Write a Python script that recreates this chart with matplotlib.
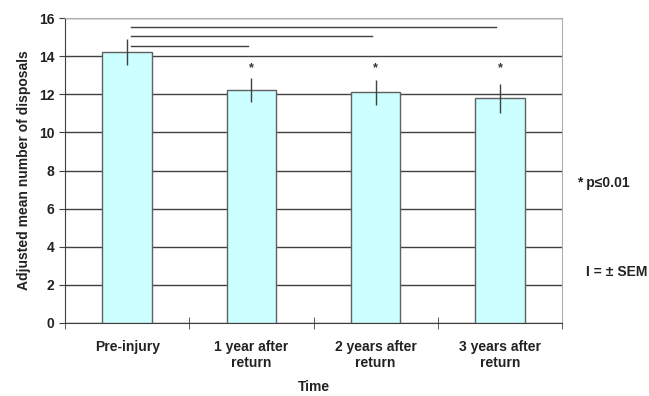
import numpy as np
import matplotlib.pyplot as plt

plt.rcParams['font.family'] = ['Liberation Sans', 'DejaVu Sans']
plt.rcParams['font.weight'] = 'bold'

# adjusted mean disposals per period, with SEM
periods = ['Pre-injury', '1 year after\nreturn', '2 years after\nreturn', '3 years after\nreturn']
means = [14.23, 12.22, 12.10, 11.79]
sem = [0.69, 0.63, 0.64, 0.77]
significant = [False, True, True, True]
# comparison brackets from pre-injury to each later period
bracket_to = [1, 2, 3]
bracket_y = [14.54, 15.06, 15.55]

fs = 10

fig = plt.figure(figsize=(6.49, 3.96), dpi=100)
ax = fig.add_axes([65/649, 1-323/396, 497/649, 305/396])

x = np.arange(len(periods))
ax.bar(x, means, width=0.4, color='#ccffff', edgecolor='#606060', linewidth=1, zorder=3)
ax.errorbar(x, means, yerr=sem, fmt='none', ecolor='#404040', elinewidth=1, capsize=0, zorder=4)

for i, s in enumerate(significant):
    if s:
        ax.text(x[i], 13.35, '*', ha='center', va='center', fontsize=9, color='#333333', zorder=5)

for j, yb in zip(bracket_to, bracket_y):
    ax.plot([x[0] + 0.03, x[j] - 0.03], [yb, yb], color='#404040', lw=1, zorder=4)

ax.set_xlim(-0.5, 3.5)
ax.set_ylim(0, 16)
ax.set_yticks(np.arange(0, 17, 2))
ax.yaxis.grid(True, color='#404040', lw=1)
ax.set_axisbelow(True)

ax.set_xticks(x)
ax.set_xticklabels(periods, fontsize=fs, fontweight='bold', color='#222222')
ax.tick_params(axis='x', length=0, pad=12)
ax.set_xticks(np.arange(-0.5, 4.0, 1.0), minor=True)
ax.tick_params(axis='x', which='minor', length=9, direction='inout', color='#404040')
ax.tick_params(axis='y', labelsize=fs, length=4, color='#404040', labelcolor='#222222')
for lab in ax.get_yticklabels():
    lab.set_fontweight('bold')

for side in ['top', 'right']:
    ax.spines[side].set_color('#b0b0b0')
ax.spines['left'].set_color('#404040')
ax.spines['bottom'].set_color('#404040')

ax.set_ylabel('Adjusted mean number of disposals', fontsize=fs, fontweight='bold', labelpad=6, color='#222222')
ax.set_xlabel('Time', fontsize=fs, fontweight='bold', labelpad=7, color='#222222')

fig.text(577/649, 1-183/396, '* p≤0.01', fontsize=fs, fontweight='bold', va='center', color='#222222')
fig.text(586/649, 1-272/396, 'I = ± SEM', fontsize=fs, fontweight='bold', va='center', color='#222222')

fig.savefig('out.png', dpi=100)
